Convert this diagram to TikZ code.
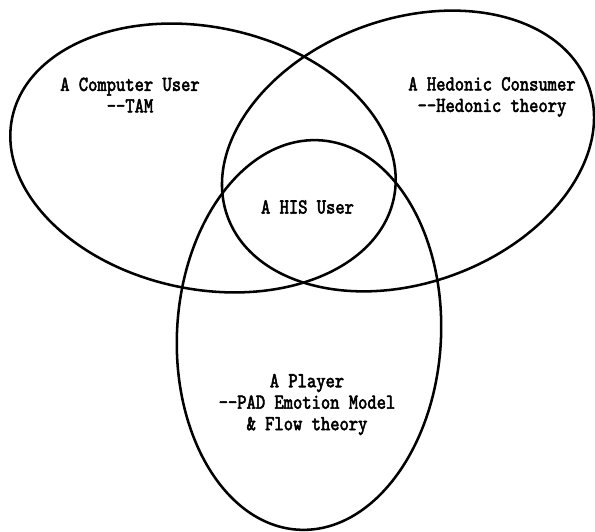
\documentclass[tikz,border=0pt]{standalone}
\usepackage{fontspec}
\newfontfamily\simfont[Extension=.otf,FakeStretch=0.83,FakeBold=2.5]{lmmono10-regular}
\begin{document}
\begin{tikzpicture}[x=0.75pt,y=0.75pt,
        venn/.style={line width=1.9pt},
        lbl/.style={font=\simfont\fontsize{16pt}{16.1pt}\selectfont,align=center,inner sep=0pt}]
        \useasboundingbox (0,0) rectangle (595,531);
        \draw [venn,shift={(203,373)},rotate=-12] (0,0) ellipse (195 and 131);
        \draw [venn,shift={(408,380)},rotate=20] (0,0) ellipse (192 and 132);
        \draw [venn,shift={(309,196)},rotate=-3] (0,0) ellipse (132 and 195);
        \node [lbl] (user) at (130,436) {A Computer User\\--TAM};
        \node [lbl] (consumer) at (492,434) {A Hedonic Consumer\\--Hedonic theory};
        \node [lbl] (his) at (307.5,324) {A HIS User};
        \node [lbl] (player) at (307,126.5) {A Player\\--PAD Emotion Model\\\& Flow theory};
    \end{tikzpicture}
\end{document}
